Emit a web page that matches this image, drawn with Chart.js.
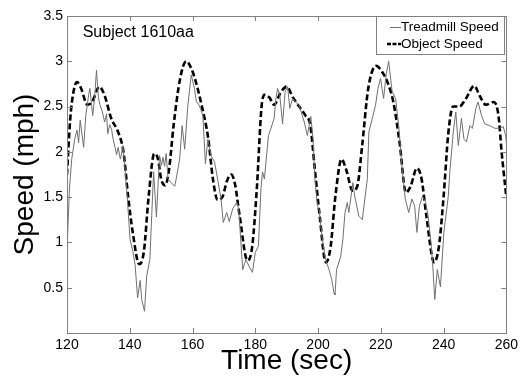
<!DOCTYPE html>
<html lang="en">
<head>
    <meta charset="UTF-8">
    <title>Subject 1610aa - Treadmill vs Object Speed</title>
    <script src="https://cdn.jsdelivr.net/npm/chart.js"></script>
    <style>
        body {
            margin: 0;
            background: #ffffff;
        }
        canvas {
            display: block;
        }
    </style>
</head>
<body>
    <canvas id="speedChart" width="522" height="377"></canvas>

    <script>
        var treadmillTime = [120, 120.8, 121.5, 122.5, 123.2, 123.7, 124.2, 125.3, 126, 126.9, 127.3, 128.2, 128.8, 129.4, 130, 130.5,
            131.2, 132, 132.6, 133, 133.6, 134.2, 134.7, 135.3, 135.8, 136.3, 137, 137.5, 137.8, 138.4, 139.2, 140.1,
            141, 141.7, 142.5, 143.3, 143.8, 144.7, 145.4, 146.4, 147, 147.6, 148.5, 149.5, 150.1, 150.6, 151.1, 151.6,
            152.2, 153.2, 154.3, 154.8, 155.9, 156.7, 157.5, 158.5, 159.6, 160.6, 161.2, 162.2, 163.3, 164.1, 164.9, 165.9,
            167, 168, 169.1, 169.8, 170.9, 171.7, 172.8, 174.1, 174.7, 176, 177, 178.1, 179.1, 180, 181, 181.8,
            182.3, 182.9, 184.2, 185, 186, 186.6, 187.1, 187.8, 188.7, 189.5, 190.3, 191, 191.9, 192.9, 194, 195.6,
            196.6, 197.7, 198.4, 199, 199.8, 200.3, 201.4, 202.4, 203.5, 204.3, 205.1, 205.4, 205.9, 207.2, 207.9, 208.6,
            209.3, 209.8, 210.4, 211.1, 211.7, 213, 214.1, 215.7, 216.2, 217.3, 218.3, 219.1, 219.9, 220.9, 221.7, 222.5,
            223.6, 224.7, 225.7, 226.8, 227.8, 228.9, 229.9, 230.8, 231.5, 232.3, 233.3, 234.2, 235, 236, 236.6, 237.2,
            238, 239, 240.1, 241.5, 242, 243.1, 243.9, 244.7, 245.7, 246.5, 247.3, 248.4, 249.2, 250.3, 251, 252.1,
            253.1, 254.7, 256.3, 257.9, 259, 259.8, 260];
        var treadmillSpeed = [0.92, 1.6, 1.92, 2.15, 2.24, 2.1, 2.35, 2.05, 2.4, 2.63, 2.7, 2.4, 2.6, 2.9, 2.6, 2.52,
            2.45, 2.33, 2.42, 2.2, 2.3, 2.25, 2.14, 2.05, 1.97, 2.05, 1.92, 2.0, 2.07, 1.85, 1.5, 1.03,
            0.9, 0.75, 0.39, 0.58, 0.37, 0.24, 0.63, 0.81, 1.3, 1.78, 1.28, 1.96, 1.85, 1.94, 1.84, 1.98,
            1.7, 1.66, 1.62, 1.7, 1.92, 2.29, 2.03, 2.51, 2.85, 2.7, 2.56, 2.51, 2.4, 1.87, 2.14, 1.96,
            1.89, 1.7, 1.48, 1.22, 1.33, 1.23, 1.37, 1.44, 1.37, 0.7, 0.81, 0.73, 0.67, 0.89, 0.96, 1.59,
            1.78, 1.7, 2.18, 2.26, 2.37, 2.59, 2.7, 2.63, 2.31, 2.66, 2.72, 2.48, 2.59, 2.55, 2.51, 2.33,
            2.18, 2.39, 2.14, 1.7, 1.4, 1.37, 1.03, 0.81, 0.7, 0.6, 0.44, 0.42, 0.7, 0.84, 1.03, 1.33,
            1.44, 1.33, 1.48, 1.66, 1.51, 1.29, 1.25, 1.7, 2.22, 2.37, 2.51, 2.7, 2.81, 2.59, 2.85, 3.0,
            2.67, 2.59, 2.29, 1.81, 1.48, 1.33, 1.48, 1.4, 1.11, 1.4, 1.51, 1.45, 1.31, 1.0, 0.72, 0.37,
            0.7, 0.51, 1.11, 1.51, 1.78, 2.22, 2.44, 2.07, 2.37, 2.14, 2.11, 2.29, 2.26, 2.48, 2.55, 2.4,
            2.31, 2.29, 2.26, 2.26, 2.28, 2.18, 2.1];

        var objectTime = [120, 121, 122, 123.2, 124.5, 126.5, 128, 130.3, 132, 134, 136.5, 138, 139.5, 141, 143, 144.5,
            146, 147.8, 149, 150, 151.3, 152.5, 154, 156, 158, 159.5, 161, 163, 165, 166.5, 168, 169.5,
            171, 172.3, 173.5, 175, 177.5, 179, 180.5, 182, 183, 184.5, 186, 188, 190, 192, 194, 196,
            197.5, 199, 200.5, 202.5, 204, 205.5, 207.5, 209, 211, 212.5, 214, 216, 218.5, 220.5, 222, 224,
            226, 228, 229.5, 231.5, 233, 234.5, 237, 238.5, 240, 241.5, 243, 245, 247, 249.8, 251.5, 253.5,
            256, 257.5, 258.5, 260];
        var objectSpeed = [1.75, 2.35, 2.65, 2.77, 2.7, 2.52, 2.55, 2.72, 2.62, 2.38, 2.2, 2.0, 1.5, 1.1, 0.76, 0.9,
            1.5, 1.98, 1.92, 1.7, 1.63, 1.8, 2.3, 2.8, 3.0, 2.93, 2.78, 2.5, 2.15, 1.7, 1.47, 1.5,
            1.68, 1.75, 1.65, 1.3, 0.8, 0.95, 1.6, 2.5, 2.63, 2.6, 2.52, 2.65, 2.72, 2.6, 2.5, 2.4,
            2.3, 1.8, 1.3, 0.78, 0.95, 1.5, 1.92, 1.8, 1.57, 1.62, 2.05, 2.7, 2.95, 2.88, 2.78, 2.55,
            2.1, 1.55, 1.62, 1.82, 1.7, 1.3, 0.78, 0.95, 1.5, 2.2, 2.5, 2.5, 2.58, 2.73, 2.62, 2.52,
            2.55, 2.4, 2.0, 1.5];

        var xTicks = [120, 140, 160, 180, 200, 220, 240, 260];
        var yTicks = [0.5, 1, 1.5, 2, 2.5, 3, 3.5];

        function toPoints(xs, ys) {
            return xs.map(function (x, i) { return { x: x, y: ys[i] }; });
        }

        var FONT = "Arial, 'Liberation Sans', sans-serif";
        var AXIS_GRAY = '#808080';

        // box, inward ticks, subject label and legend
        var matlabLook = {
            id: 'matlabLook',
            afterDraw: function (chart) {
                var ctx = chart.ctx;
                var a = chart.chartArea;
                var xs = chart.scales.x, ys = chart.scales.y;
                ctx.save();
                ctx.strokeStyle = AXIS_GRAY;
                ctx.lineWidth = 1;
                ctx.beginPath();
                xTicks.forEach(function (v) {
                    var px = Math.round(xs.getPixelForValue(v)) + 0.5;
                    ctx.moveTo(px, a.bottom); ctx.lineTo(px, a.bottom - 5);
                    ctx.moveTo(px, a.top); ctx.lineTo(px, a.top + 5);
                });
                yTicks.forEach(function (v) {
                    var py = Math.round(ys.getPixelForValue(v)) + 0.5;
                    ctx.moveTo(a.left, py); ctx.lineTo(a.left + 5, py);
                    ctx.moveTo(a.right, py); ctx.lineTo(a.right - 5, py);
                });
                ctx.stroke();
                ctx.strokeRect(Math.round(a.left) + 0.5, Math.round(a.top) + 0.5,
                    Math.round(a.right - a.left), Math.round(a.bottom - a.top));

                // subject label
                ctx.fillStyle = '#000';
                ctx.font = '16px ' + FONT;
                ctx.textBaseline = 'middle';
                ctx.textAlign = 'left';
                ctx.fillText('Subject 1610aa', xs.getPixelForValue(125), ys.getPixelForValue(3.32));

                // legend
                var lw = 128, lh = 38;
                var lx = Math.round(a.right) - 2 - lw, ly = Math.round(a.top);
                ctx.fillStyle = '#fff';
                ctx.fillRect(lx, ly, lw, lh);
                ctx.strokeStyle = AXIS_GRAY;
                ctx.strokeRect(lx + 0.5, ly + 0.5, lw, lh);

                ctx.strokeStyle = '#707070';
                ctx.lineWidth = 1;
                ctx.beginPath();
                ctx.moveTo(lx + 14, ly + 11.5); ctx.lineTo(lx + 25, ly + 11.5);
                ctx.stroke();

                ctx.strokeStyle = '#000';
                ctx.lineWidth = 2.5;
                ctx.setLineDash([4, 1.5]);
                ctx.beginPath();
                ctx.moveTo(lx + 11, ly + 28); ctx.lineTo(lx + 25, ly + 28);
                ctx.stroke();
                ctx.setLineDash([]);

                ctx.fillStyle = '#000';
                ctx.font = '13.5px ' + FONT;
                ctx.fillText('Treadmill Speed', lx + 25, ly + 11);
                ctx.fillText('Object Speed', lx + 25, ly + 28);
                ctx.restore();
            }
        };

        var ctx = document.getElementById('speedChart').getContext('2d');
        var speedChart = new Chart(ctx, {
            type: 'line',
            data: {
                datasets: [
                    {
                        label: 'Treadmill Speed',
                        data: toPoints(treadmillTime, treadmillSpeed),
                        borderColor: '#707070',
                        borderWidth: 1,
                        pointRadius: 0,
                        tension: 0,
                        fill: false
                    },
                    {
                        label: 'Object Speed',
                        data: toPoints(objectTime, objectSpeed),
                        borderColor: '#000000',
                        borderWidth: 2.6,
                        borderDash: [6, 3],
                        pointRadius: 0,
                        cubicInterpolationMode: 'monotone',
                        fill: false
                    }
                ]
            },
            options: {
                responsive: false,
                animation: false,
                devicePixelRatio: 1,
                layout: { padding: { top: 16, right: 14, left: 0, bottom: 0 } },
                plugins: {
                    legend: { display: false },
                    tooltip: { enabled: false }
                },
                scales: {
                    x: {
                        type: 'linear',
                        min: 120,
                        max: 260,
                        afterBuildTicks: function (s) { s.ticks = xTicks.map(function (v) { return { value: v }; }); },
                        afterFit: function (s) { s.height = 44; },
                        grid: { display: false, drawTicks: false },
                        border: { display: false },
                        ticks: {
                            padding: 4, color: '#000', font: { family: FONT, size: 14 }, maxRotation: 0,
                            callback: function (v) { return String(v); }
                        },
                        title: {
                            display: true,
                            text: 'Time (sec)',
                            color: '#000',
                            font: { family: FONT, size: 28, lineHeight: 1.1 },
                            padding: 0
                        }
                    },
                    y: {
                        min: 0,
                        max: 3.5,
                        afterBuildTicks: function (s) { s.ticks = yTicks.map(function (v) { return { value: v }; }); },
                        afterFit: function (s) { s.width = 67; },
                        grid: { display: false, drawTicks: false },
                        border: { display: false },
                        ticks: {
                            padding: 4, color: '#000', font: { family: FONT, size: 14 },
                            callback: function (v) { return String(v); }
                        },
                        title: {
                            display: true,
                            text: 'Speed (mph)',
                            color: '#000',
                            font: { family: FONT, size: 28, lineHeight: 1.1 },
                            padding: { top: 10, bottom: 0 }
                        }
                    }
                }
            },
            plugins: [matlabLook]
        });
    </script>
</body>
</html>
